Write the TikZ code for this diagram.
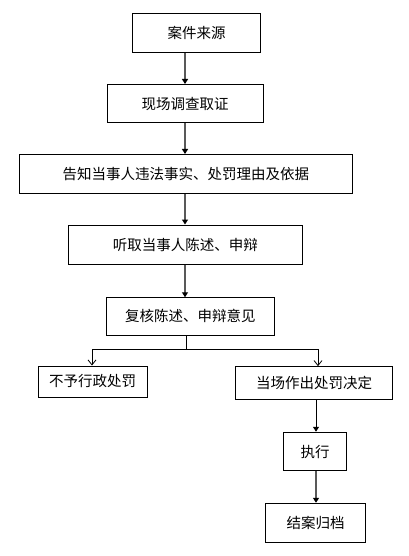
\documentclass[tikz,border=0pt]{standalone}
\usepackage{fontspec}
\newfontfamily\cjk{Noto Sans CJK SC}
\usetikzlibrary{arrows.meta}
\begin{document}
\begin{tikzpicture}[x=1pt,y=-1pt,
  box/.style={draw=black,line width=1pt,fill=white,inner sep=0pt,anchor=center,
    font=\cjk\fontsize{14.5pt}{16pt}\selectfont},
  mainarrow/.style={draw=black!65,line width=1.4pt,-{Triangle[width=6pt,length=5pt,fill=black,color=black]}},
  brancharrow/.style={draw=black,line width=0.8pt,-{Straight Barb[length=5pt,width=8pt,line width=0.8pt]}},
  branchline/.style={draw=black,line width=1pt}]
\useasboundingbox (0,0) rectangle (408,556);
\node[box,minimum width=128pt,minimum height=39pt] (b1) at (196.5,33) {案件来源};
\node[box,minimum width=156pt,minimum height=38.5pt] (b2) at (185,103.75) {现场调查取证};
\node[box,minimum width=332.5pt,minimum height=39pt] (b3) at (185.75,174) {告知当事人违法事实、处罚理由及依据};
\node[box,minimum width=233.5pt,minimum height=39pt] (b4) at (185.25,244.5) {听取当事人陈述、申辩};
\node[box,minimum width=168.5pt,minimum height=37.3pt] (b5) at (190.25,316.4) {复核陈述、申辩意见};
\node[box,minimum width=109pt,minimum height=31pt] (b6) at (92.5,381.5) {不予行政处罚};
\node[box,minimum width=157pt,minimum height=33.3pt] (b7) at (314,383.3) {当场作出处罚决定};
\node[box,minimum width=63pt,minimum height=38.7pt] (b8) at (315,451.6) {执行};
\node[box,minimum width=100pt,minimum height=39.4pt] (b9) at (315.7,523) {结案归档};
\coordinate (ax) at (185,0);
\coordinate (bx) at (186.5,0);
\coordinate (lx) at (92,0);
\coordinate (rx) at (318,0);
\coordinate (sx) at (316,0);
\coordinate (jy) at (0,349);
\draw[mainarrow] (b1.south -| ax) -- (b2.north -| ax);
\draw[mainarrow] (b2.south -| ax) -- (b3.north -| ax);
\draw[mainarrow] (b3.south -| ax) -- (b4.north -| ax);
\draw[mainarrow] (b4.south -| ax) -- (b5.north -| ax);
\draw[branchline] (b5.south -| bx) -- (jy -| bx);
\draw[branchline] (jy -| lx) -- (jy -| rx);
\draw[brancharrow] (jy -| lx) -- (b6.north -| lx);
\draw[brancharrow] (jy -| rx) -- (b7.north -| rx);
\draw[mainarrow,draw=black,line width=1pt] (b7.south -| sx) -- (b8.north -| sx);
\draw[mainarrow] (b8.south -| sx) -- (b9.north -| sx);
\end{tikzpicture}
\end{document}
